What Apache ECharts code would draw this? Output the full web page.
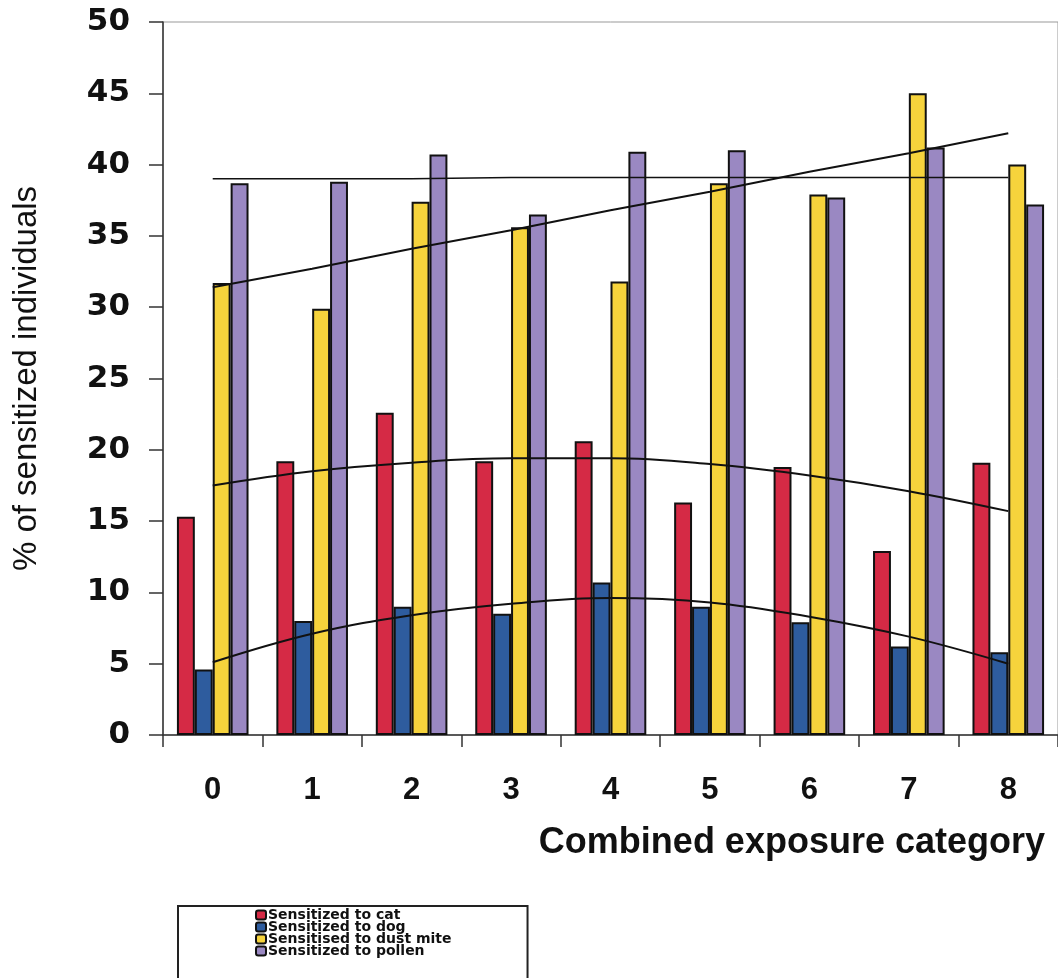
<!DOCTYPE html>
<html>
<head>
<meta charset="utf-8">
<script src="https://cdn.jsdelivr.net/npm/echarts@6/dist/echarts.min.js"></script>
<style>
  html, body { margin: 0; padding: 0; background: #fff; }
  #main { width: 1058px; height: 978px; }
</style>
</head>
<body>
<div id="main"></div>
<script>
// exposure categories on the x axis
const categories = ['0', '1', '2', '3', '4', '5', '6', '7', '8']

// % sensitized
const catValues    = [15.3, 19.2, 22.6, 19.2, 20.6, 16.3, 18.8, 12.9, 19.1]
const dogValues    = [4.6, 8.0, 9.0, 8.5, 10.7, 9.0, 7.9, 6.2, 5.8]
const miteValues   = [31.7, 29.9, 37.4, 35.6, 31.8, 38.7, 37.9, 45.0, 40.0]
const pollenValues = [38.7, 38.8, 40.7, 36.5, 40.9, 41.0, 37.7, 41.2, 37.2]

// fitted trend lines, read at each category centre
const catTrend    = [17.5, 18.5, 19.1, 19.4, 19.4, 19.0, 18.2, 17.1, 15.7]
const dogTrend    = [5.1, 7.1, 8.4, 9.2, 9.6, 9.3, 8.3, 6.9, 5.0]
const miteTrend   = [31.4, 32.7, 34.1, 35.4, 36.8, 38.1, 39.5, 40.8, 42.2]
const pollenTrend = [39.0, 39.0, 39.0, 39.1, 39.1, 39.1, 39.1, 39.1, 39.1]

const names = ['Sensitized to cat', 'Sensitized to dog', 'Sensitised to dust mite', 'Sensitized to pollen']
const colors = ['#d52a45', '#2e5c9e', '#f6d33c', '#9a88c2']

let myChart = echarts.init(document.getElementById('main'))

function barSeries(name, data, color) {
  return {
    name: name,
    type: 'bar',
    data: data,
    barGap: '0%',
    barCategoryGap: '28%',
    itemStyle: { color: color, borderColor: '#111', borderWidth: 2 }
  }
}

function trendSeries(name, data, smooth, width) {
  return {
    name: name,
    type: 'line',
    data: data,
    smooth: smooth,
    symbol: 'none',
    z: 5,
    lineStyle: { color: '#111', width: width }
  }
}

let option = {
  animation: false,
  backgroundColor: '#fff',
  grid: {
    left: 163,
    top: 22,
    width: 895,
    height: 713,
    show: true,
    borderColor: '#999',
    borderWidth: 1
  },
  legend: {
    data: names,
    orient: 'vertical',
    left: 178,
    top: 906,
    height: 60,
    padding: [2, 76, 30, 77],
    itemGap: -2,
    itemWidth: 10,
    itemHeight: 9,
    borderColor: '#222',
    borderWidth: 2,
    textStyle: {
      fontFamily: 'DejaVu Sans',
      fontWeight: 'bold',
      fontSize: 14,
      lineHeight: 12,
      color: '#111',
      padding: [0, 0, 0, -3]
    }
  },
  xAxis: {
    type: 'category',
    data: categories,
    name: 'Combined exposure category',
    nameLocation: 'end',
    nameGap: -13,
    nameTextStyle: {
      fontFamily: 'Liberation Sans',
      fontWeight: 'bold',
      fontSize: 36,
      color: '#111',
      align: 'right',
      verticalAlign: 'top',
      padding: [90, 0, 0, 0]
    },
    axisLine: { lineStyle: { color: '#333', width: 1.5 } },
    axisTick: { show: true, length: 12, lineStyle: { color: '#333', width: 1.5 } },
    axisLabel: {
      margin: 40,
      fontFamily: 'Liberation Sans',
      fontWeight: 'bold',
      fontSize: 31,
      color: '#111'
    }
  },
  yAxis: {
    type: 'value',
    min: 0,
    max: 50,
    interval: 5,
    name: '% of sensitized individuals',
    nameLocation: 'middle',
    nameRotate: 90,
    nameGap: 120,
    nameTextStyle: {
      fontFamily: 'Liberation Sans',
      fontSize: 33,
      color: '#111'
    },
    splitLine: { show: false },
    axisLine: { show: true, lineStyle: { color: '#333', width: 1.5 } },
    axisTick: { show: true, length: 14, lineStyle: { color: '#333', width: 1.5 } },
    axisLabel: {
      margin: 33,
      fontFamily: 'DejaVu Sans',
      fontWeight: 'bold',
      fontSize: 31,
      color: '#111'
    }
  },
  series: [
    barSeries(names[0], catValues, colors[0]),
    barSeries(names[1], dogValues, colors[1]),
    barSeries(names[2], miteValues, colors[2]),
    barSeries(names[3], pollenValues, colors[3]),
    trendSeries('Trend cat', catTrend, 0.4, 2),
    trendSeries('Trend dog', dogTrend, 0.4, 2),
    trendSeries('Trend dust mite', miteTrend, false, 2),
    trendSeries('Trend pollen', pollenTrend, false, 1.5)
  ]
}

myChart.setOption(option)
</script>
</body>
</html>
